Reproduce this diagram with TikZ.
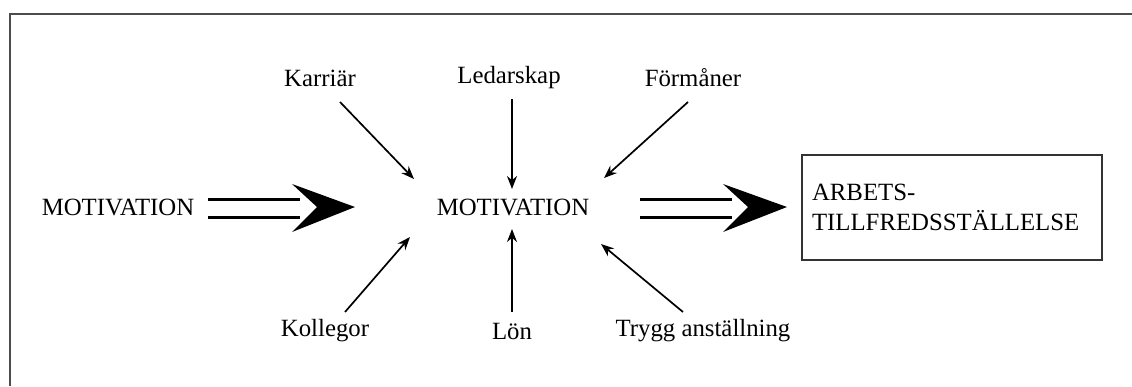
\documentclass[tikz,border=0pt]{standalone}
\usepackage{fontspec}
\setmainfont{Liberation Serif}
\usetikzlibrary{arrows.meta}
\begin{document}
\begin{tikzpicture}[x=1pt,y=-1pt,
  lbl/.style={inner sep=0pt,font=\fontsize{24.8}{30}\selectfont},
  thinarr/.style={line width=1.7pt,-{Stealth[length=13pt,width=10pt]}},
  dbl/.style={line width=3pt},
  bighead/.style={fill=black},
  frame/.style={line width=2pt,draw=black!70}]
\useasboundingbox (0,0) rectangle (1132,386);
\draw[frame] (9.5,386) -- (9.5,13.5) -- (1132,13.5);
% labels
\node[lbl] (m1) at (118,207) {MOTIVATION};
\node[lbl] (m2) at (513,207) {MOTIVATION};
\node[lbl] (kar) at (320,78) {Karriär};
\node[lbl] (led) at (509,78) {Ledarskap};
\node[lbl] (for) at (693,78) {Förmåner};
\node[lbl] (kol) at (325,331) {Kollegor};
\node[lbl] (lon) at (512,331) {Lön};
\node[lbl] (try) at (703,331) {Trygg anställning};
\node[draw=black!80,line width=1.8pt,minimum width=300pt,minimum height=105pt,
  text width=280pt,align=left,inner sep=0pt,font=\fontsize{24.8}{30}\selectfont]
  (box) at (952,207.5) {ARBETS-\\TILLFREDSSTÄLLELSE};
% thin arrows
\coordinate (karS) at (340,102); \coordinate (karE) at (414,179);
\coordinate (ledS) at (512,99);  \coordinate (ledE) at (512,189);
\coordinate (forS) at (688,102); \coordinate (forE) at (604,178);
\coordinate (kolS) at (345,312); \coordinate (kolE) at (410,237);
\coordinate (lonS) at (512,312); \coordinate (lonE) at (512,229);
\coordinate (tryS) at (683,312); \coordinate (tryE) at (601,244);
\draw[thinarr] (karS) -- (karE);
\draw[thinarr] (ledS) -- (ledE);
\draw[thinarr] (forS) -- (forE);
\draw[thinarr] (kolS) -- (kolE);
\draw[thinarr] (lonS) -- (lonE);
\draw[thinarr] (tryS) -- (tryE);
% double arrows
\coordinate (a1) at (208,0); \coordinate (t1) at (355,207);
\draw[dbl] (a1 |- 0,199) -- (300,199);
\draw[dbl] (a1 |- 0,217) -- (300,217);
\fill[bighead] (t1) -- (292,184) -- (317,207) -- (292,232) -- cycle;
\coordinate (a2) at (640,0); \coordinate (t2) at (787,207);
\draw[dbl] (a2 |- 0,199) -- (732,199);
\draw[dbl] (a2 |- 0,217) -- (732,217);
\fill[bighead] (t2) -- (723,184) -- (748,207) -- (723,232) -- cycle;
\end{tikzpicture}
\end{document}
